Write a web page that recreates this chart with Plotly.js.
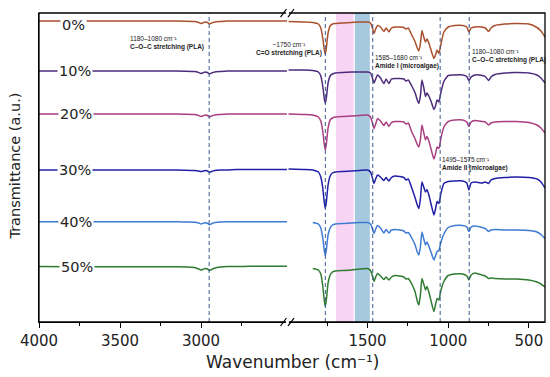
<!DOCTYPE html>
<html>
<head>
<meta charset="utf-8">
<script src="https://cdn.plot.ly/plotly-3.0.1.min.js"></script>
<style>html,body{margin:0;padding:0;background:#fff;}#chart{width:550px;height:377px;}</style>
</head>
<body>
<div id="chart"></div>
<script>
// ---- data (wavenumbers in cm^-1, transmittance in arbitrary stacked units) ----
const seriesNames = ['0%', '10%', '20%', '30%', '40%', '50%'];
const wnLeft = [4000, 3800, 3600, 3400, 3200, 3100, 3040, 3015, 3000, 2990, 2975, 2960, 2948, 2935, 2915, 2880, 2840, 2780, 2700, 2600, 2500, 2470];
const wnRight = [1990, 1900, 1840, 1805, 1790, 1778, 1768, 1762, 1755, 1745, 1732, 1718, 1700, 1650, 1600, 1550, 1500, 1482, 1470, 1460, 1450, 1438, 1420, 1399, 1385, 1368, 1352, 1330, 1300, 1275, 1262, 1248, 1226, 1205, 1192, 1182, 1172, 1163, 1150, 1141, 1132, 1120, 1105, 1089, 1079, 1069, 1058, 1045, 1027, 1000, 960, 910, 885, 872, 858, 835, 790, 770, 750, 735, 710, 650, 580, 500, 450, 425, 400];

const left0  = [301, 301, 301, 301, 301, 300.8, 300.5, 299.5, 298.5, 299, 300, 299.5, 298, 299, 300, 300.5, 301, 301, 301, 301, 301, 301];
const left10 = [251, 251, 251, 251, 251, 250.8, 250.5, 249.5, 248.5, 249, 250, 249.5, 248, 249, 250, 250.5, 251, 251, 251, 251, 251, 251];
const left20 = [208, 208, 208, 208, 208, 207.8, 207.5, 206.5, 205.5, 206, 207, 206.5, 205, 206, 207, 207.5, 208, 208, 208, 208, 208, 208];
const left30 = [152, 152, 152, 152, 152, 151.8, 151.5, 151, 150.5, 150.8, 151.5, 151, 149.5, 150.5, 151.5, 152, 152, 152.5, 152.5, 152.5, 152.5, 152.5];
const left40 = [100.3, 100.3, 100.3, 100.3, 100.3, 100, 99.8, 99, 98, 98.5, 99.2, 98.8, 97.2, 98.2, 99.5, 100, 100.3, 100.3, 100.3, 100.3, 100.3, 100.3];
const left50 = [55.5, 55.3, 55.3, 55.3, 55.3, 55, 54.5, 53, 52, 52.5, 53.5, 53, 51.5, 52.5, 54, 55, 55.5, 55.5, 55.7, 55.7, 55.7, 55.7];

const right0 = [300.5, 300, 299.5, 298, 294, 284, 272, 268, 275, 289,
  296, 298, 298.5, 299, 299.5, 300, 300, 299, 294, 288.5,
  293, 296.5, 295, 290.5, 294, 290, 294, 295, 295, 294.5,
  293, 294, 287, 280, 274, 271, 279, 291.5, 284, 280,
  283, 279, 271, 263.5, 267, 272, 268.5, 278, 290, 295,
  296.5, 296.5, 295, 290, 294, 295, 295, 294, 290.5, 294,
  296.5, 298, 298.5, 298, 294.5, 291, 285];
const right10 = [252, 252, 251.5, 250, 246, 236, 223, 218.5, 225, 239,
  246, 248, 249, 249.5, 250, 250, 250, 249, 244, 239,
  243, 247, 244, 238.5, 243, 238.5, 243, 243.5, 243.5, 243,
  241, 242, 236, 229, 222, 218.5, 227, 242, 233, 225.5,
  229, 226, 220, 212.5, 216, 222, 220, 230, 240.5, 246.5,
  247, 247, 245.5, 241.5, 245, 247, 246.5, 245.5, 241.5, 245,
  247.5, 249, 249.5, 249, 247, 244, 239];
const right20 = [208, 207.5, 207, 205, 201, 191, 177, 172, 179, 194,
  202, 204, 205, 205.5, 206, 206.5, 207, 205, 199, 193.5,
  198, 203.5, 201, 196.5, 200, 195.5, 199.5, 200.5, 200.5, 200,
  198, 199, 190, 183, 177.5, 175, 183, 197, 188, 182,
  185.5, 181, 172, 163, 168, 175, 173.5, 184, 195, 200.5,
  202, 202, 200, 195.5, 200, 201.5, 200.5, 200, 197, 199,
  200, 200.5, 200.5, 199.5, 197, 194, 189];
const right30 = [153, 152.5, 152, 150, 145, 134, 119, 113.5, 121, 137,
  146, 149, 150, 150.5, 151, 151.5, 152, 150, 144, 138.5,
  143, 147, 145, 141.5, 144.5, 141, 144.5, 146, 145.5, 144.5,
  142, 143, 134, 124, 117, 113.5, 124, 140, 134, 130,
  132.5, 127, 117, 107, 113, 120.5, 118.5, 129, 138.5, 140.5,
  141, 141, 139, 132, 139, 140, 139, 140, 138.5, 142,
  143.5, 144.5, 145, 144.5, 143, 140, 134];
const right40 = [null, null, 99.5, 98, 94, 84, 71, 66, 73, 87,
  94, 97, 98, 98.5, 99, 99.5, 99.5, 98, 93, 88.5,
  93, 96.5, 94, 89, 92.5, 89, 92, 92.5, 92, 91,
  89, 89.5, 84, 77, 70, 67, 76, 90, 82, 77,
  80, 76, 69, 62, 66, 70.5, 71.5, 80, 88, 94.5,
  96.5, 96.5, 95, 90.5, 95, 96, 94.5, 93.5, 90.5, 92,
  92.5, 92, 92, 91.5, 90, 87.5, 83.5];
const right50 = [null, null, 53.5, 52, 48, 36, 21, 15.5, 23, 39,
  47, 50, 51, 51.5, 52, 53, 53.5, 51.5, 46, 40.5,
  45, 48.5, 46, 42.5, 45, 42, 45, 46.5, 46, 45,
  43, 43.5, 38, 30, 21, 17, 28, 43.5, 37, 32,
  35.5, 30, 20, 10.5, 17, 23.5, 22, 32, 40.5, 46.5,
  48, 48, 46, 42, 47, 49, 47, 46, 43.5, 44,
  43.5, 43, 43, 42, 40, 38, 35];

const leftTickVals = [4000, 3500, 3000];
const leftMinorVals = [3750, 3250, 2750];
const rightTickVals = [1500, 1000, 500];
const rightMinorVals = [1750, 1250, 750];
const markerLines = [1762, 1468, 1050, 870];   // dashed guide lines (right panel)
const markerLineLeft = 2950;                    // dashed guide line (left panel)
const amideIBand = [1696, 1587];
const amideIIBand = [1579, 1486];

// ---- build ----
const leftSeries = [left0, left10, left20, left30, left40, left50];
const rightSeries = [right0, right10, right20, right30, right40, right50];
const colors = ['#a9502c', '#4e2c7c', '#a83e80', '#2020a6', '#3d7ad2', '#2f7b30'];

const traces = [];
seriesNames.forEach((n, i) => {
  traces.push({x: wnLeft, y: leftSeries[i], xaxis: 'x', yaxis: 'y', type: 'scatter', mode: 'lines',
    line: {color: colors[i], width: 1.5, shape: 'spline', smoothing: 0.5}, name: n, showlegend: false, hoverinfo: 'skip'});
  traces.push({x: wnRight, y: rightSeries[i], xaxis: 'x2', yaxis: 'y', type: 'scatter', mode: 'lines',
    line: {color: colors[i], width: 1.5, shape: 'spline', smoothing: 0.5}, name: n, showlegend: false, hoverinfo: 'skip', connectgaps: false});
});

const dashCol = '#3b5b8c';
const shapes = [
  {type: 'rect', xref: 'x2', yref: 'paper', x0: amideIBand[0], x1: amideIBand[1], y0: 0, y1: 1, fillcolor: '#f8d4f4', line: {width: 0}, layer: 'below'},
  {type: 'rect', xref: 'x2', yref: 'paper', x0: amideIIBand[0], x1: amideIIBand[1], y0: 0, y1: 1, fillcolor: '#a6c9df', line: {width: 0}, layer: 'below'},
  {type: 'line', xref: 'x', yref: 'paper', x0: markerLineLeft, x1: markerLineLeft, y0: 0, y1: 1, line: {color: dashCol, width: 1, dash: '4px,3px'}, layer: 'above'}
];
markerLines.forEach(v => shapes.push({type: 'line', xref: 'x2', yref: 'paper', x0: v, x1: v, y0: 0, y1: 1,
  line: {color: dashCol, width: 1, dash: '4px,3px'}, layer: 'above'}));
// frame
shapes.push({type: 'rect', xref: 'paper', yref: 'paper', x0: 0, x1: 1, y0: 0, y1: 1, line: {color: '#000', width: 1.3}, fillcolor: 'rgba(0,0,0,0)', layer: 'above'});
// axis-break marks
[[-0.0129, 0.0129], [0.987, 1.0129]].forEach(([ya, yb]) => {
  shapes.push({type: 'line', xref: 'paper', yref: 'paper', x0: 0.4885, x1: 0.4935, y0: 0, y1: 0, line: {color: '#fff', width: 3}});
  shapes.push({type: 'line', xref: 'paper', yref: 'paper', x0: 0.4885, x1: 0.4935, y0: 1, y1: 1, line: {color: '#fff', width: 3}});
  shapes.push({type: 'line', xref: 'paper', yref: 'paper', x0: 0.4773, x1: 0.4891, y0: ya, y1: yb, line: {color: '#000', width: 1.2}});
  shapes.push({type: 'line', xref: 'paper', yref: 'paper', x0: 0.4921, x1: 0.5040, y0: ya, y1: yb, line: {color: '#000', width: 1.2}});
});

const labFont = {family: 'DejaVu Sans, sans-serif', size: 14.5, color: '#222'};
const labelX = [3787, 3778, 3770, 3775, 3772, 3765];
const labelNudge = [-3.5, 0, 0, 0, 0, 0];
const annotations = seriesNames.map((n, i) => ({
  x: labelX[i], y: leftSeries[i][0] + labelNudge[i], xref: 'x', yref: 'y', text: n, showarrow: false,
  font: labFont, bgcolor: '#ffffff', borderpad: 1, xanchor: 'center', yanchor: 'middle'
}));
const smallFont = {family: 'Liberation Sans, Arial, sans-serif', size: 6.5, color: '#222'};
const notes = [
  {x: 3444, xref: 'x', y: 279.5, text: '1180–1080 cm⁻¹<br><b>C–O–C stretching (PLA)</b>', xanchor: 'left', align: 'left'},
  {x: 1985, xref: 'x2', y: 273, text: '~1750 cm⁻¹<br><b>C=O stretching (PLA)</b>', xanchor: 'center', align: 'center'},
  {x: 1461, xref: 'x2', y: 260.5, text: '1585–1680 cm⁻¹<br><b>Amide I (microalgae)</b>', xanchor: 'left', align: 'left'},
  {x: 856, xref: 'x2', y: 266, text: '1180–1080 cm⁻¹<br><b>C–O–C stretching (PLA)</b>', xanchor: 'left', align: 'left'},
  {x: 1046, xref: 'x2', y: 158.5, text: '1495–1575 cm⁻¹<br><b>Amide II (microalgae)</b>', xanchor: 'left', align: 'left'}
];
notes.forEach(a => annotations.push(Object.assign({yref: 'y', showarrow: false, font: smallFont, yanchor: 'middle', borderpad: 0}, a)));
annotations.push({xref: 'paper', yref: 'paper', x: 0.5, y: -0.129, text: 'Wavenumber (cm⁻¹)', showarrow: false,
  font: {family: 'DejaVu Sans, sans-serif', size: 17, color: '#222'}, xanchor: 'center', yanchor: 'middle'});
annotations.push({xref: 'paper', yref: 'paper', x: -0.0474, y: 0.503, text: 'Transmittance (a.u.)', showarrow: false, textangle: -90,
  font: {family: 'DejaVu Sans, sans-serif', size: 14.5, color: '#222'}, xanchor: 'center', yanchor: 'middle'});

const tickFont = {family: 'DejaVu Sans, sans-serif', size: 15, color: '#222'};
const axBase = {showgrid: false, zeroline: false, showline: true, linecolor: '#000', linewidth: 1.3,
  ticks: 'outside', ticklen: 5, tickwidth: 1, tickcolor: '#000', tickfont: tickFont, tickmode: 'array', fixedrange: true};

const layout = {
  width: 550, height: 377,
  margin: {l: 39, r: 5, t: 13, b: 55},
  paper_bgcolor: '#fff', plot_bgcolor: '#fff',
  showlegend: false,
  xaxis: Object.assign({}, axBase, {domain: [0, 0.49], range: [4000, 2470], tickvals: leftTickVals, anchor: 'y',
    minor: {tickmode: 'array', tickvals: leftMinorVals, ticks: 'outside', ticklen: 3, tickcolor: '#000'}}),
  xaxis2: Object.assign({}, axBase, {domain: [0.49, 1], range: [2000, 400], tickvals: rightTickVals, anchor: 'y',
    minor: {tickmode: 'array', tickvals: rightMinorVals, ticks: 'outside', ticklen: 3, tickcolor: '#000'}}),
  yaxis: {range: [0, 309], showgrid: false, zeroline: false, showticklabels: false, ticks: '', showline: true, linecolor: '#000', linewidth: 1.3, anchor: 'x', fixedrange: true},
  shapes: shapes,
  annotations: annotations
};

Plotly.newPlot('chart', traces, layout, {staticPlot: true, displayModeBar: false});
</script>
</body>
</html>
